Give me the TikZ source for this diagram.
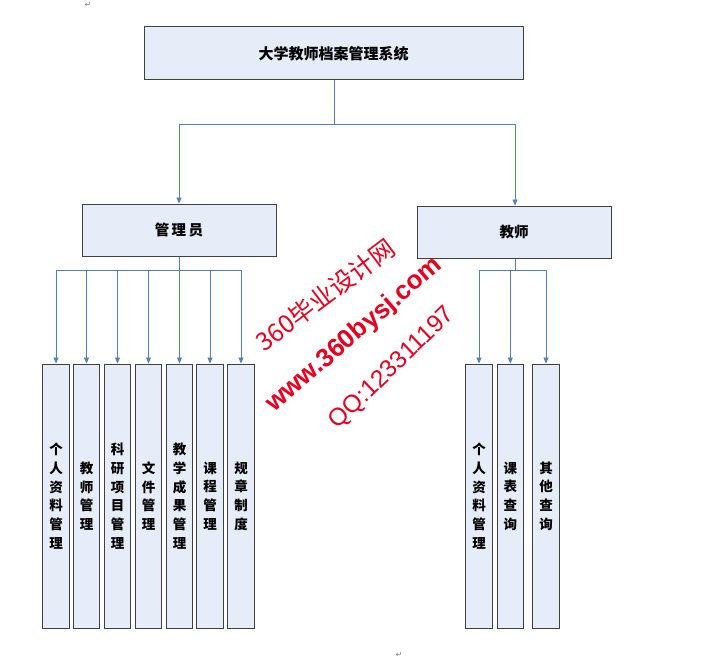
\documentclass[tikz,border=0pt]{standalone}
\usepackage{fontspec}
\newfontfamily\cjk{Noto Sans CJK SC}
\newfontfamily\wmsans{Liberation Sans}
\newfontfamily\dejavu{DejaVu Sans}
\usetikzlibrary{arrows.meta}
\definecolor{boxfill}{RGB}{230,236,248}
\definecolor{boxline}{RGB}{64,64,64}
\definecolor{conncol}{RGB}{79,129,189}
\definecolor{wmred}{RGB}{235,0,30}
\tikzset{
  box/.style={draw=boxline, line width=1pt, fill=boxfill, inner sep=0pt, anchor=center},
  colbox/.style={box, minimum width=26.5pt, minimum height=264pt, align=center,
    font=\cjk\bfseries\fontsize{13.5}{18.7}\selectfont},
  conn/.style={draw=conncol, line width=0.9pt},
  arr/.style={conn, -{Triangle[length=6pt,width=5pt]}},
  wm/.style={text=wmred, inner sep=0pt},
  retmark/.style={text=gray, inner sep=0pt, font=\dejavu\fontsize{8}{8}\selectfont}
}
\begin{document}
\begin{tikzpicture}[x=1pt,y=-1pt]
\useasboundingbox (0,0) rectangle (715,661);
% top
\node[box, minimum width=379pt, minimum height=53pt, font=\cjk\bfseries\fontsize{15}{16}\selectfont] (top) at (333.5,53.5) {大学教师档案管理系统};
\node[box, minimum width=194pt, minimum height=52pt, font=\cjk\bfseries\fontsize{14.5}{16}\selectfont] (admin) at (179,230) {管\,理\,员};
\node[box, minimum width=194pt, minimum height=52pt, font=\cjk\bfseries\fontsize{14.5}{16}\selectfont] (teacher) at (514,232) {教师};
% admin children
\node[colbox] (a1) at (56,496) {个\\人\\资\\料\\管\\理};
\node[colbox] (a2) at (86.5,496) {教\\师\\管\\理};
\node[colbox] (a3) at (117.5,496) {科\\研\\项\\目\\管\\理};
\node[colbox] (a4) at (148.5,496) {文\\件\\管\\理};
\node[colbox] (a5) at (179.5,496) {教\\学\\成\\果\\管\\理};
\node[colbox] (a6) at (210,496) {课\\程\\管\\理};
\node[colbox] (a7) at (241,496) {规\\章\\制\\度};
% teacher children
\node[colbox] (t1) at (479,496) {个\\人\\资\\料\\管\\理};
\node[colbox] (t2) at (510.3,496) {课\\表\\查\\询};
\node[colbox] (t3) at (546,496) {其\\他\\查\\询};
% connectors
\coordinate (j1) at (334,124);
\coordinate (j2) at (179,270);
\coordinate (j3) at (515,270);
\draw[conn] (top.south -| j1) -- (j1);
\draw[arr] (j1) -| (admin.north);
\draw[arr] (j1) -| (teacher.north -| j3);
\draw[conn] (admin.south -| j2) -- (j2);
\foreach \c in {a1,a2,a3,a4,a5,a6,a7}{\draw[arr] (j2) -| (\c.north);}
\draw[conn] (teacher.south -| j3) -- (j3);
\foreach \c in {t1,t2,t3}{\draw[arr] (j3) -| (\c.north);}
% watermark
\node[wm, rotate=37, font=\cjk\itshape\fontsize{25}{25}\selectfont] (w1) at (325,295) {360毕业设计网};
\node[wm, rotate=40.6, font=\wmsans\bfseries\fontsize{26}{26}\selectfont] (w2) at (354.5,335) {www.360bysj.com};
\node[wm, rotate=44, font=\wmsans\fontsize{24.5}{24.5}\selectfont] (w3) at (392.5,368.5) {QQ:123311197};
% paragraph marks
\node[retmark] (r1) at (88,5) {↵};
\node[retmark] (r2) at (399,655) {↵};
\end{tikzpicture}
\end{document}
